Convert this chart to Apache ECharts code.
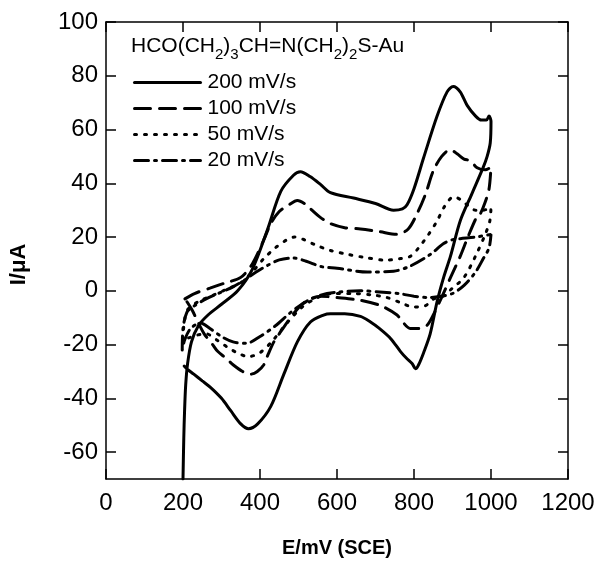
<!DOCTYPE html>
<html>
<head>
<meta charset="utf-8">
<script src="https://cdn.jsdelivr.net/npm/echarts@6/dist/echarts.min.js"></script>
<style>
  html, body { margin: 0; padding: 0; background: #fff; }
  #chart { width: 598px; height: 563px; }
</style>
</head>
<body>
<div id="chart"></div>
<script>
// axis ticks
const xTicks = [0, 200, 400, 600, 800, 1000, 1200];
const yTicks = [-60, -40, -20, 0, 20, 40, 60, 80, 100];
const seriesNames = ['200 mV/s', '100 mV/s', '50 mV/s', '20 mV/s'];

// E (mV), I (uA): forward sweep then reverse sweep
const cv200 = [
    [200, -70], [202, -55], [204, -45], [207, -35], [212, -27], [222, -19], [240, -13], [265, -9],
    [300, -5], [342, 0], [380, 8], [420, 23], [454, 37], [487, 43], [505, 44.3], [530, 42.5],
    [557, 39.6], [583, 36.5], [643, 34.5], [700, 32.5], [747, 30], [770, 30.5], [782, 32], [800, 38],
    [825, 49.5], [860, 65], [886, 74], [902, 76], [920, 74], [938, 69], [960, 65], [975, 63.5],
    [988, 63.5], [995, 65], [1000, 63],
    [998, 55], [990, 50], [980, 46], [950, 36], [920, 26], [895, 13], [877, 5], [860, -4],
    [842, -16], [825, -23], [812, -27.5], [804, -29], [795, -27], [780, -25], [765, -22.6],
    [739, -17.7], [710, -14], [687, -11.6], [661, -9.5], [620, -8.5], [583, -8.5], [565, -9],
    [531, -11.6], [497, -19], [462, -31], [428, -43], [394, -49.5], [370, -51.3], [350, -49.5],
    [324, -44.6], [300, -40], [272, -36], [250, -33.5], [228, -31], [210, -29], [203, -28]
];
const cv100 = [
    [205, -3], [230, -1], [270, 1], [311, 3], [350, 5], [380, 10], [410, 19], [428, 25],
    [450, 29.5], [475, 32], [497, 33.6], [515, 32.5], [531, 30.5], [555, 27.5], [583, 25],
    [620, 23.5], [661, 23], [710, 22], [756, 21], [785, 23], [808, 28.7], [830, 36], [850, 44.6],
    [872, 50], [894, 52.5], [912, 51], [930, 49], [946, 48.4], [964, 45.8], [985, 45], [1000, 46],
    [995, 38], [985, 33], [972, 28.6], [963, 27.5], [940, 20], [920, 12.8], [895, 5], [870, -3],
    [850, -9], [834, -12.8], [812, -14], [790, -14], [770, -11.5], [756, -9], [713, -5.5],
    [660, -3.5], [600, -2.5], [557, -2], [514, -4.4], [490, -8], [471, -11.6], [450, -16],
    [436, -19], [420, -24], [410, -27.5], [393, -30], [376, -31], [355, -30], [330, -27.5],
    [311, -25], [290, -22.5], [277, -20], [255, -16], [240, -12], [225, -7.5], [210, -4], [205, -3]
];
const cv50 = [
    [200, -18], [203, -12], [212, -7], [240, -4], [280, -1.5], [320, 1], [350, 3], [380, 7],
    [410, 12], [440, 16], [470, 19], [490, 20], [515, 19], [545, 17], [583, 15], [630, 13.5],
    [669, 12.5], [726, 11.4], [765, 12], [790, 12.8], [811, 15.8], [838, 21], [860, 26],
    [880, 31.5], [903, 35], [920, 34], [938, 32], [960, 30], [980, 30], [1000, 31],
    [997, 26], [985, 21], [960, 13], [930, 5], [900, 1], [870, -2.5], [851, -3], [830, -5.5],
    [798, -6], [765, -4.4], [730, -2.5], [690, -1.5], [640, -1], [590, -1], [550, -2.5],
    [510, -6], [470, -12], [430, -19], [400, -23], [370, -24.5], [340, -23], [316, -21],
    [290, -18.5], [260, -16], [235, -16.5], [215, -17.5], [200, -18]
];
const cv20 = [
    [198, -22], [200, -14], [210, -8], [225, -6], [260, -3], [291, -1], [330, 1.5], [360, 4],
    [390, 7], [420, 9.5], [450, 11.5], [487, 12.2], [520, 11], [560, 9], [600, 8.4], [679, 7],
    [747, 7.3], [790, 9.2], [842, 13.5], [877, 17.6], [900, 19], [920, 19.4], [960, 20], [1000, 21],
    [995, 16], [980, 12], [960, 7], [930, 2], [900, -1], [870, -2], [840, -2.5], [800, -2],
    [760, -1], [720, -0.5], [660, 0], [600, -0.5], [560, -1.5], [520, -4], [480, -8], [440, -13],
    [400, -17], [365, -19.5], [330, -19], [300, -17], [270, -14], [245, -12], [220, -14],
    [205, -18], [198, -22]
];

const chart = echarts.init(document.getElementById('chart'));

const font = 'Liberation Sans, Arial, Helvetica, sans-serif';
const axisLine = { show: true, onZero: false, lineStyle: { color: '#000', width: 1.5 } };
const tick = { show: true, inside: true, length: 10, lineStyle: { color: '#000', width: 1.5 } };

const mkLine = (name, data, type) => ({
    name: name,
    type: 'line',
    data: data,
    showSymbol: false,
    symbol: 'none',
    smooth: 0.3,
    animation: false,
    lineStyle: { color: '#000', width: 3, type: type, cap: 'round' },
    itemStyle: { color: '#000' }
});

chart.setOption({
    animation: false,
    grid: { left: 105, right: 30, top: 22, bottom: 77 },
    legend: {
        orient: 'vertical',
        left: 128,
        top: 67,
        itemWidth: 66,
        itemHeight: 14,
        itemGap: 5,
        data: seriesNames,
        itemStyle: { opacity: 0 },
        lineStyle: { width: 3 },
        textStyle: { fontFamily: font, fontSize: 21, color: '#000', padding: [0, 0, 0, 2] }
    },
    graphic: [{
        type: 'text',
        left: 131,
        top: 36,
        style: {
            text: '{a|HCO(CH}{s|2}{a|)}{s|3}{a|CH=N(CH}{s|2}{a|)}{s|2}{a|S-Au}',
            rich: {
                a: { fontFamily: font, fontSize: 21, color: '#000', lineHeight: 26, verticalAlign: 'top' },
                s: { fontFamily: font, fontSize: 15, color: '#000', lineHeight: 15, verticalAlign: 'bottom' }
            }
        }
    }],
    xAxis: [{
        type: 'value',
        min: 0, max: 1200, interval: 200,
        name: 'E/mV (SCE)',
        nameLocation: 'middle',
        nameGap: 59,
        nameTextStyle: { fontFamily: font, fontSize: 20, fontWeight: 'bold', color: '#000' },
        axisLine: axisLine,
        axisTick: tick,
        splitLine: { show: false },
        axisLabel: { fontFamily: font, fontSize: 24, color: '#000', margin: 12,
            customValues: xTicks, formatter: v => String(v) }
    }, {
        type: 'value', position: 'top',
        min: 0, max: 1200, interval: 200,
        axisLine: axisLine, axisTick: tick,
        axisLabel: { show: false }, splitLine: { show: false }
    }],
    yAxis: [{
        type: 'value',
        min: -70, max: 100,
        name: 'I/μA',
        nameLocation: 'middle',
        nameGap: 76,
        nameRotate: 90,
        nameTextStyle: { fontFamily: font, fontSize: 22, fontWeight: 'bold', color: '#000', padding: [0, 28, 0, 0] },
        axisLine: axisLine,
        axisTick: Object.assign({}, tick, { customValues: yTicks }),
        splitLine: { show: false },
        axisLabel: { fontFamily: font, fontSize: 24, color: '#000', margin: 8,
            customValues: yTicks, formatter: v => String(v) }
    }, {
        type: 'value', position: 'right',
        min: -70, max: 100,
        axisLine: axisLine,
        axisTick: Object.assign({}, tick, { customValues: yTicks }),
        axisLabel: { show: false }, splitLine: { show: false }
    }],
    series: [
        mkLine(seriesNames[0], cv200, 'solid'),
        mkLine(seriesNames[1], cv100, [16, 9]),
        mkLine(seriesNames[2], cv50, [2, 8]),
        mkLine(seriesNames[3], cv20, [14, 6, 2, 6])
    ]
});
</script>
</body>
</html>
